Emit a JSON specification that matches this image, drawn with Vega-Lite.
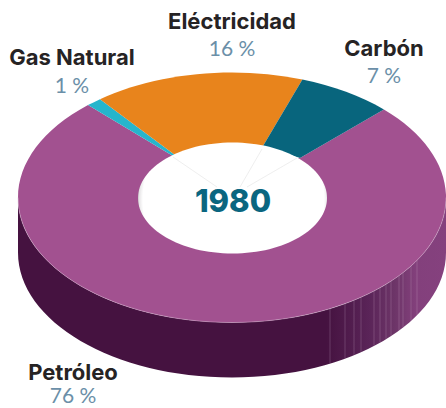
{
"$schema":"https://vega.github.io/schema/vega-lite/v6.json",
"width":446,"height":408,"padding":0,"autosize":{"type":"none"},"background":"white",
"config":{"view":{"stroke":null}},
"data":{"values":[
{"fuente":"Petróleo","valor":76,"etiqueta":"76 %"},
{"fuente":"Gas Natural","valor":1,"etiqueta":"1 %"},
{"fuente":"Eléctricidad","valor":16,"etiqueta":"16 %"},
{"fuente":"Carbón","valor":7,"etiqueta":"7 %"}]},
"layer":[
{"transform":[{"filter":"datum.fuente==='Petróleo'"}],
 "mark":{"type":"point","filled":true,"opacity":1,"size":4,"strokeWidth":0,
  "shape":"M223 -6.5A214 125 0 0 1 -205 -6.5L-205 48.5A214 125 0 0 0 223 48.5Z",
  "fill":{"gradient":"linear","x1":0,"y1":0,"x2":1,"y2":0,"stops":[
   {"offset":0,"color":"#451240"},{"offset":0.72,"color":"#451240"},{"offset":0.82,"color":"#5a2458"},{"offset":0.88,"color":"#6d3568"},{"offset":0.93,"color":"#83407c"},{"offset":1,"color":"#85417e"}]}}},
{"transform":[{"filter":"datum.fuente==='Petróleo'"}],
 "mark":{"type":"point","filled":false,"opacity":0.45,"size":4,"strokeWidth":0.6,"stroke":"#c8a4c4",
  "shape":"M107 104.1L107 159.1M122 99.2L122 154.2M131 95.7L131 150.7M138 92.7L138 147.7M151 86.5L151 141.5M157 83.3L157 138.3M163 79.8L163 134.8M168 76.7L168 131.7M176 71.2L176 126.2M180 68.2L180 123.2M188 61.5L188 116.5M194 55.8L194 110.8"}},
{"mark":{"type":"point","filled":true,"opacity":1,"size":4,"strokeWidth":0},
 "encoding":{
  "shape":{"field":"fuente","type":"nominal","legend":null,"scale":{
   "domain":["Petróleo","Gas Natural","Eléctricidad","Carbón"],
   "range":[
    "M160.9 -94.58A214 125 0 1 1 -135 -98.95L-50 -48L77 -46Z",
    "M-135 -98.95A214 125 0 0 1 -123 -104.86L-48 -49L-50 -48Z",
    "M-123 -104.86A214 125 0 0 1 79.4 -124.55L40 -58L-48 -49Z",
    "M79.4 -124.55A214 125 0 0 1 160.9 -94.58L77 -46L40 -58Z"]}},
  "fill":{"field":"fuente","type":"nominal","legend":null,"scale":{
   "domain":["Petróleo","Gas Natural","Eléctricidad","Carbón"],
   "range":["#a25190","#26b5cc","#e8841c","#08657d"]}}}},
{"transform":[{"filter":"datum.fuente==='Petróleo'"}],
 "mark":{"type":"point","filled":false,"opacity":0.6,"size":4,"strokeWidth":0.7,"stroke":"#dcc0d8",
  "shape":"M223 -6.5A214 125 0 0 1 -205 -6.5"}},
{"data":{"values":[{"anio":1980}]},
 "mark":{"type":"point","filled":true,"opacity":1,"size":4,"strokeWidth":0,
  "shape":"M-85 -6A94.5 55.5 0 1 1 104 -6A94.5 55.5 0 1 1 -85 -6Z",
  "fill":{"gradient":"radial","x1":0.505,"y1":0.51,"r1":0,"x2":0.505,"y2":0.51,"r2":0.515,"stops":[
   {"offset":0,"color":"#ffffff"},{"offset":0.93,"color":"#ffffff"},{"offset":0.97,"color":"#e6e4e6"},{"offset":1,"color":"#8f8a8e"}]}}},
{"data":{"values":[{"anio":1980}]},
 "mark":{"type":"point","filled":false,"opacity":1,"size":4,"strokeWidth":0.6,"stroke":"#e3e3e3",
  "shape":"M-50 -47L-6 -17M39 -55L17 -17M74 -46L24 -17"}},
{"data":{"values":[{"anio":1980}]},
 "mark":{"type":"text","font":"Inter","fontWeight":800,"fontSize":31,"color":"#0a6680","align":"center","baseline":"alphabetic","dx":10,"dy":8},
 "encoding":{"text":{"field":"anio","type":"nominal"}}},
{"mark":{"type":"text","font":"Inter","fontWeight":700,"fontSize":22,"color":"#262324","align":"center","baseline":"alphabetic"},
 "encoding":{
  "text":{"field":"fuente","type":"nominal"},
  "x":{"field":"valor","type":"quantitative","axis":null,"scale":{"domain":[1,7,16,76],"range":[72,384,232,73],"nice":false,"zero":false}},
  "y":{"field":"valor","type":"quantitative","axis":null,"scale":{"domain":[1,7,16,76],"range":[65,56,29,380],"nice":false,"zero":false}}}},
{"mark":{"type":"text","font":"Lato","fontWeight":400,"fontSize":21,"color":"#6b8fa8","align":"center","baseline":"alphabetic"},
 "encoding":{
  "text":{"field":"etiqueta","type":"nominal"},
  "x":{"field":"valor","type":"quantitative","axis":null,"scale":{"domain":[1,7,16,76],"range":[72,384,232,73],"nice":false,"zero":false}},
  "y":{"field":"valor","type":"quantitative","axis":null,"scale":{"domain":[1,7,16,76],"range":[93,83,56,403],"nice":false,"zero":false}}}}
],
"resolve":{"scale":{"y":"independent"}}
}
